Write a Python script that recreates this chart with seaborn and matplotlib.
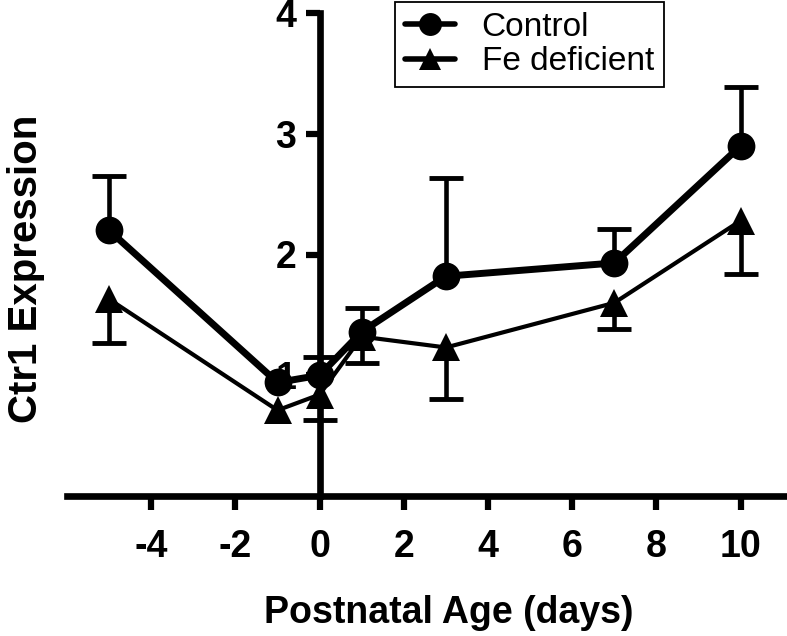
import matplotlib

matplotlib.use("Agg")
import matplotlib.pyplot as plt
import numpy as np
import pandas as pd
import seaborn as sns
from matplotlib.lines import Line2D

# values
days = [-5, -1, 0, 1, 3, 7, 10]
control = [2.20, 0.94, 1.00, 1.36, 1.82, 1.93, 2.90]
control_err_up = [0.45, np.nan, 0.15, 0.20, 0.81, 0.28, 0.49]
fe_deficient = [1.63, 0.71, 0.84, 1.32, 1.23, 1.60, 2.28]
fe_err_down = [0.36, np.nan, 0.21, 0.22, 0.43, 0.22, 0.44]

x_ticks = [-4, -2, 0, 2, 4, 6, 8, 10]
y_ticks = [1, 2, 3, 4]

sns.set_style("ticks")
plt.rcParams.update(
    {
        "font.family": ["Liberation Sans", "DejaVu Sans"],
        "font.weight": "bold",
        "text.color": "black",
        "axes.labelcolor": "black",
        "xtick.color": "black",
        "ytick.color": "black",
        "axes.unicode_minus": False,
    }
)

df = pd.DataFrame(
    {
        "day": days * 2,
        "expr": control + fe_deficient,
        "group": ["Control"] * len(days) + ["Fe deficient"] * len(days),
    }
)

fig = plt.figure(figsize=(7.87, 6.36), dpi=100)
ax = fig.add_axes([67 / 787, 140 / 636, 720 / 787, 483 / 636])

styles = {
    "Control": dict(marker="o", lw=5.0),
    "Fe deficient": dict(marker="^", lw=3.0),
}
for name, st in styles.items():
    sns.lineplot(
        data=df[df["group"] == name], x="day", y="expr", ax=ax,
        color="black", linewidth=st["lw"], marker=st["marker"],
        markersize=20, markeredgewidth=0, zorder=4, legend=False,
    )

# one-sided error bars (up for control, down for Fe deficient)
zeros = np.zeros(len(days))
eb = ax.errorbar(days, control, yerr=[zeros, control_err_up], fmt="none",
                 ecolor="black", elinewidth=3.3, capsize=12, capthick=3.5, zorder=3)
eb[1][0].set_visible(False)
eb = ax.errorbar(days, fe_deficient, yerr=[fe_err_down, zeros], fmt="none",
                 ecolor="black", elinewidth=3.3, capsize=12, capthick=3.5, zorder=3)
eb[1][1].set_visible(False)

ax.set_xlim(-6, 11.1)
ax.set_ylim(0, 4)
ax.set_xticks(x_ticks)
ax.set_yticks(y_ticks)
ax.spines["left"].set_position(("data", 0))
ax.spines["top"].set_visible(False)
ax.spines["right"].set_visible(False)
for side in ("left", "bottom"):
    ax.spines[side].set_linewidth(4.8)
    ax.spines[side].set_color("black")
ax.tick_params(axis="both", width=4.5, length=10, labelsize=27, direction="out",
               color="black", labelcolor="black")
ax.tick_params(axis="x", pad=14)
ax.tick_params(axis="y", pad=7)

ax.set_xlabel("Postnatal Age (days)", fontsize=27, fontweight="bold", va="center")
ax.xaxis.set_label_coords(0.53, -(613 - 496) / 483)
ax.set_ylabel("Ctr1 Expression", fontsize=29, fontweight="bold", va="center")
ax.yaxis.set_label_coords(-(67 - 26) / 720, (496 - 269) / 483)

handles = [
    Line2D([], [], color="black", lw=4, marker="o", markersize=16.5, markeredgewidth=0),
    Line2D([], [], color="black", lw=4, marker="^", markersize=16.5, markeredgewidth=0),
]
leg = ax.legend(
    handles, ["Control", "Fe deficient"],
    loc="upper left", bbox_to_anchor=(395 / 787, 1 - 2 / 636),
    bbox_transform=fig.transFigure, borderaxespad=0,
    prop={"size": 24, "weight": "normal"},
    frameon=True, fancybox=False, framealpha=1, edgecolor="black",
    handlelength=1.5, handletextpad=0.8, labelspacing=0.1, borderpad=0.3,
    numpoints=1,
)
leg.get_frame().set_linewidth(1.3)
for txt in leg.get_texts():
    txt.set_color("black")

fig.savefig("out.png", dpi=100)
